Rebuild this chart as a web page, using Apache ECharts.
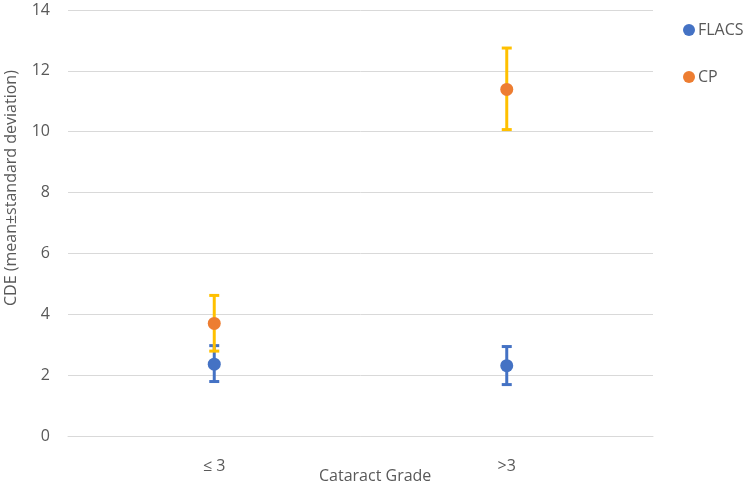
<!DOCTYPE html>
<html>
<head>
<meta charset="utf-8">
<script src="https://cdn.jsdelivr.net/npm/echarts@6/dist/echarts.min.js"></script>
<style>html,body{margin:0;padding:0;background:#fff;}#c{width:750px;height:488px;}</style>
</head>
<body>
<div id="c"></div>
<script>
var categories = ['≤ 3', '>3'];
var flacsMean = [2.36, 2.31];
var flacsLow = [1.79, 1.69];
var flacsHigh = [2.97, 2.94];
var cpMean = [3.70, 11.39];
var cpLow = [2.79, 10.07];
var cpHigh = [4.62, 12.75];
var yTicks = [0, 2, 4, 6, 8, 10, 12, 14];

var FONT = '"Open Sans", Lato, sans-serif';
var TXT = '#595959';

function errData(low, high) {
  return categories.map(function (c, i) { return [i, low[i], high[i]]; });
}
function errRender(color) {
  return function (params, api) {
    var x = api.value(0);
    var lo = api.coord([x, api.value(1)]);
    var hi = api.coord([x, api.value(2)]);
    var hw = 5;
    var st = { stroke: color, lineWidth: 3 };
    return {
      type: 'group',
      children: [
        { type: 'line', shape: { x1: lo[0], y1: lo[1], x2: hi[0], y2: hi[1] }, style: st },
        { type: 'line', shape: { x1: lo[0] - hw, y1: lo[1], x2: lo[0] + hw, y2: lo[1] }, style: st },
        { type: 'line', shape: { x1: hi[0] - hw, y1: hi[1], x2: hi[0] + hw, y2: hi[1] }, style: st }
      ]
    };
  };
}

var chart = echarts.init(document.getElementById('c'), null, { renderer: 'canvas' });
chart.setOption({
  animation: false,
  backgroundColor: '#fff',
  grid: { left: 68, right: 97, top: 10, bottom: 52, containLabel: false },
  legend: {
    orient: 'vertical',
    left: 678,
    top: 17,
    itemGap: 31,
    itemWidth: 12,
    itemHeight: 12,
    icon: 'circle',
    textStyle: { color: TXT, fontSize: 16, fontFamily: FONT, padding: [0, 0, 0, -2] },
    data: ['FLACS', 'CP']
  },
  xAxis: {
    type: 'category',
    data: categories,
    boundaryGap: true,
    axisLine: { show: true, lineStyle: { color: '#d9d9d9', width: 1 } },
    axisTick: { show: false },
    axisLabel: { color: TXT, fontSize: 16, fontFamily: FONT, margin: 22 }
  },
  yAxis: {
    type: 'value',
    min: yTicks[0],
    max: yTicks[yTicks.length - 1],
    interval: 2,
    axisLine: { show: false },
    axisTick: { show: false },
    splitLine: { lineStyle: { color: '#d9d9d9', width: 1 } },
    axisLabel: { color: TXT, fontSize: 16, fontFamily: FONT, margin: 18 }
  },
  graphic: [
    { type: 'text', left: 319, top: 468, style: { text: 'Cataract Grade', fill: TXT, fontSize: 16, fontFamily: FONT } },
    { type: 'text', x: 3, y: 306, rotation: Math.PI / 2, style: { text: 'CDE (mean±standard deviation)', fill: TXT, fontSize: 16, fontFamily: FONT, textVerticalAlign: 'top' } }
  ],
  series: [
    { name: 'FLACS-err', type: 'custom', data: errData(flacsLow, flacsHigh), renderItem: errRender('#4472C4'), z: 2, silent: true },
    { name: 'FLACS', type: 'scatter', data: flacsMean, symbolSize: 13, itemStyle: { color: '#4472C4', opacity: 1 }, z: 3 },
    { name: 'CP-err', type: 'custom', data: errData(cpLow, cpHigh), renderItem: errRender('#FFC000'), z: 4, silent: true },
    { name: 'CP', type: 'scatter', data: cpMean, symbolSize: 13, itemStyle: { color: '#ED7D31', opacity: 1 }, z: 5 }
  ]
});
</script>
</body>
</html>
